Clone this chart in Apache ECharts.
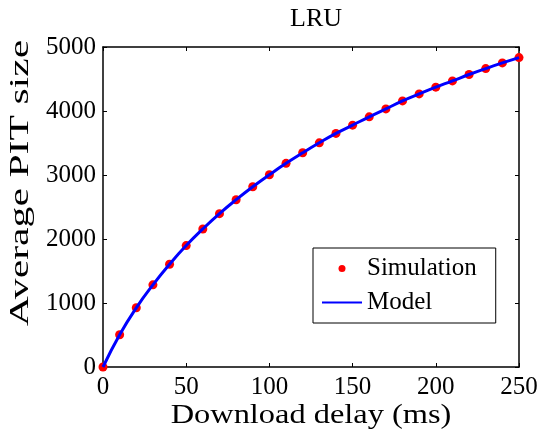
<!DOCTYPE html>
<html><head><meta charset="utf-8">
<script src="https://cdn.jsdelivr.net/npm/echarts@6/dist/echarts.min.js"></script>
<style>html,body{margin:0;padding:0;background:#fff}#c{width:541px;height:431px}</style>
</head><body><div id="c"></div>
<script>
const delays = [0,10,20,30,40,50,60,70,80,90,100,110,120,130,140,150,160,170,180,190,200,210,220,230,240,250];
const simulation = [0,504,925,1284,1606,1897,2157,2396,2614,2817,3004,3182,3347,3503,3650,3779,3909,4033,4158,4267,4372,4470,4570,4663,4751,4834];
const model = [0,504,925,1284,1606,1897,2157,2396,2614,2817,3004,3182,3347,3503,3650,3779,3909,4033,4158,4267,4372,4470,4570,4663,4751,4834];
const titleText = 'LRU';
const xName = 'Download delay (ms)';
const yName = 'Average PIT size';

const font = 'Liberation Serif';
const chart = echarts.init(document.getElementById('c'));
const axisCommon = {
  axisLine:{show:true,onZero:false,lineStyle:{color:'#000',width:1.5}},
  axisTick:{show:true,inside:true,length:4,lineStyle:{color:'#000',width:1}},
  splitLine:{show:false}
};
chart.setOption({
  animation:false,
  backgroundColor:'#fff',
  title:{text:titleText,left:311,textAlign:'center',top:1,textStyle:{fontFamily:font,fontSize:26,fontWeight:'normal',color:'#000'}},
  grid:{left:103,right:22,top:47,bottom:64},
  legend:{
    orient:'vertical',left:313,top:248,
    backgroundColor:'#fff',borderColor:'#000',borderWidth:1,
    padding:[8,19,8,8],itemGap:9,itemWidth:40,itemHeight:7,
    textStyle:{fontFamily:font,fontSize:25,color:'#000'},
    lineStyle:{width:2},
    data:[{name:'Simulation',icon:'circle',itemStyle:{color:'#ff0000',opacity:1}},
          {name:'Model',itemStyle:{color:'rgba(0,0,0,0)',borderWidth:0}}]
  },
  graphic:[
    {type:'text',x:311,y:416,scaleX:1.2,z:10,
     style:{text:xName,fontFamily:font,fontSize:27,fill:'#000',textAlign:'center',textVerticalAlign:'middle'}},
    {type:'text',x:21,y:183,rotation:Math.PI/2,scaleX:1.49,z:10,
     style:{text:yName,fontFamily:font,fontSize:28,fill:'#000',textAlign:'center',textVerticalAlign:'middle'}}
  ],
  xAxis:[
    Object.assign({type:'value',min:0,max:250,interval:50,position:'bottom',
      axisLabel:{fontFamily:font,fontSize:25,color:'#000',margin:8,formatter:v=>String(v)}},axisCommon),
    Object.assign({type:'value',min:0,max:250,interval:50,position:'top',axisLabel:{show:false}},axisCommon)
  ],
  yAxis:[
    Object.assign({type:'value',min:0,max:5000,interval:1000,position:'left',
      axisLabel:{fontFamily:font,fontSize:25,color:'#000',margin:7,formatter:v=>String(v)}},axisCommon),
    Object.assign({type:'value',min:0,max:5000,interval:1000,position:'right',axisLabel:{show:false}},axisCommon)
  ],
  series:[
    {name:'Model',type:'line',smooth:true,showSymbol:false,symbol:'none',z:3,
     lineStyle:{color:'#0000ff',width:3},itemStyle:{color:'#0000ff'},
     data:delays.map((d,i)=>[d,model[i]])},
    {name:'Simulation',type:'scatter',symbolSize:9,z:2,itemStyle:{color:'#ff0000',opacity:1},
     data:delays.map((d,i)=>[d,simulation[i]])}
  ]
});
</script></body></html>
